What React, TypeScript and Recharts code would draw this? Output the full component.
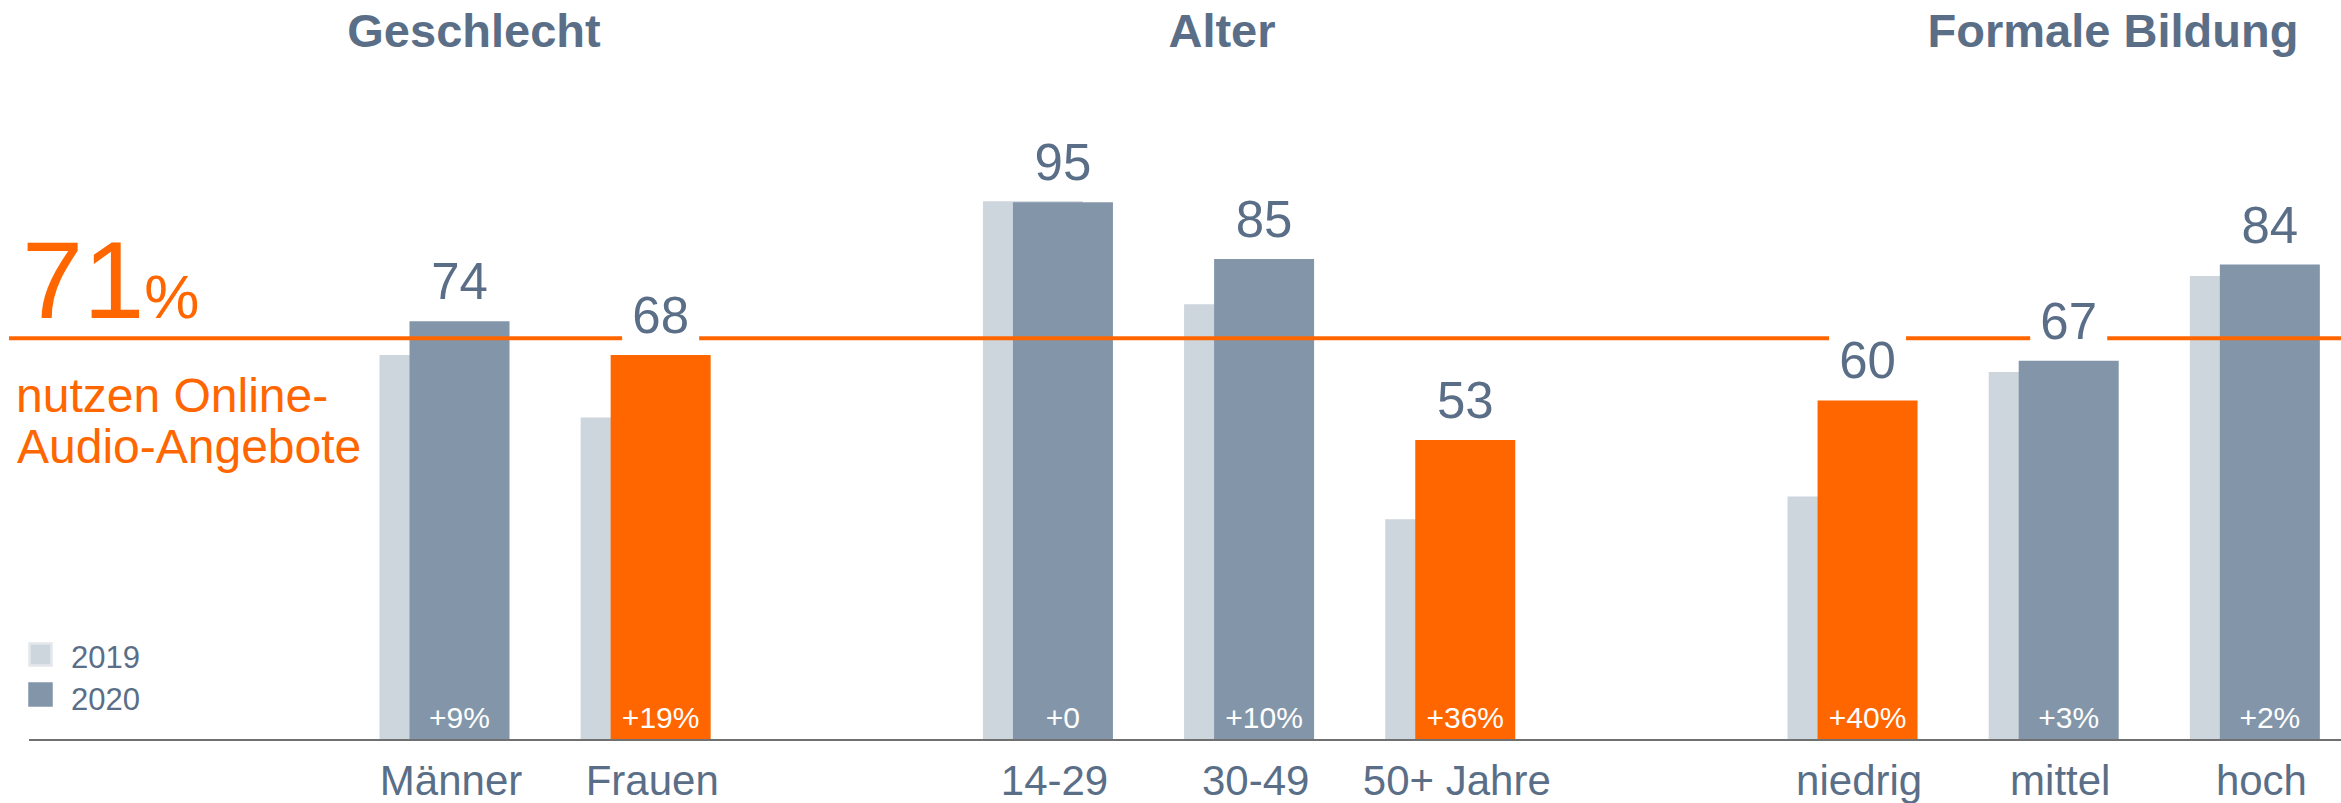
import React from 'react';
import { Bar, BarChart, Cell, LabelList, Legend, ReferenceLine, XAxis, YAxis } from 'recharts';

const categories = ['Männer', 'Frauen', '', '14-29', '30-49', '50+ Jahre', '', 'niedrig', 'mittel', 'hoch'];
const values2019 = [68, 57, null, 95.2, 77, 39, null, 43, 65, 82];
const values2020 = [74, 68, null, 95, 85, 53, null, 60, 67, 84];
const changes = ['+9%', '+19%', '', '+0', '+10%', '+36%', '', '+40%', '+3%', '+2%'];
const highlighted = ['Frauen', '50+ Jahre', 'niedrig'];
const average = 71;

const groupTitles = [
  { label: 'Geschlecht', x: 474 },
  { label: 'Alter', x: 1222 },
  { label: 'Formale Bildung', x: 2113 },
];

const TEXT = '#5A6F87';
const GREY = '#8396A9';
const LIGHT = '#CDD5DD';
const ORANGE = '#FF6600';
const FONT = '"Liberation Sans", Arial, sans-serif';

const data = categories.map((category, i) => ({
  category,
  v2019: values2019[i],
  v2020: values2020[i],
  change: changes[i],
}));

const ValueLabel = (props: any) => {
  const { x, y, width, value } = props;
  if (value == null) return null;
  const cx = x + width / 2;
  const base = y - 22;
  const w = String(value).length * 29 + 19;
  return (
    <g>
      <rect x={cx - w / 2} y={base - 48} width={w} height={58} fill="#fff" />
      <text x={cx} y={base} textAnchor="middle" fontSize={51} fill={TEXT} fontFamily={FONT}>
        {value}
      </text>
    </g>
  );
};

const ChangeLabel = (props: any) => {
  const { x, y, width, height, value } = props;
  if (!value) return null;
  return (
    <text x={x + width / 2} y={y + height - 12} textAnchor="middle" fontSize={30} fill="#fff" fontFamily={FONT}>
      {value}
    </text>
  );
};

const CategoryTick = ({ x, y, payload }: any) => (
  <text x={x + 7} y={y + 55} textAnchor="middle" fontSize={42} fill={TEXT} fontFamily={FONT}>
    {payload.value}
  </text>
);

const LegendContent = ({ payload }: any) => (
  <svg width={160} height={80}>
    {(payload || []).map((entry: any, i: number) => (
      <g key={entry.value}>
        <rect
          x={3.5}
          y={4.5 + i * 40}
          width={22}
          height={22}
          fill={i === 0 ? LIGHT : GREY}
          stroke={i === 0 ? '#E4E8EC' : GREY}
          strokeWidth={2.5}
        />
        <text x={45} y={29 + i * 42} fontSize={31} fill={TEXT} fontFamily={FONT}>
          {entry.value}
        </text>
      </g>
    ))}
  </svg>
);

export default function App() {
  return (
    <div
      style={{
        position: 'fixed',
        left: 0,
        top: 0,
        width: 2341,
        height: 803,
        overflow: 'hidden',
        background: '#fff',
        fontFamily: FONT,
      }}
    >
      <BarChart
        width={2355}
        height={803}
        data={data}
        margin={{ top: 174, right: 0, bottom: 0, left: 9 }}
        barSize={100}
        barGap={-70}
      >
        <XAxis
          dataKey="category"
          interval={0}
          tickLine={false}
          tickSize={0}
          tickMargin={0}
          height={63}
          padding={{ left: 334.5, right: 0 }}
          axisLine={{ stroke: '#707070', strokeWidth: 2, strokeDasharray: '0 20 4000' }}
          tick={<CategoryTick />}
        />
        <YAxis hide domain={[0, 100]} />
        <Legend
          layout="horizontal"
          verticalAlign="middle"
          align="center"
          content={<LegendContent />}
          wrapperStyle={{ position: 'absolute', left: 26, top: 639, width: 160, height: 80 }}
        />
        <Bar dataKey="v2019" name="2019" fill={LIGHT} isAnimationActive={false} />
        <ReferenceLine y={average} stroke={ORANGE} strokeWidth={4} />
        <Bar dataKey="v2020" name="2020" fill={GREY} isAnimationActive={false}>
          {data.map((d, i) => (
            <Cell key={i} fill={highlighted.includes(d.category) ? ORANGE : GREY} />
          ))}
          <LabelList dataKey="v2020" content={<ValueLabel />} />
          <LabelList dataKey="change" content={<ChangeLabel />} />
        </Bar>
        {groupTitles.map((t) => (
          <text
            key={t.label}
            x={t.x}
            y={47}
            textAnchor="middle"
            fontSize={47}
            fontWeight="bold"
            fill={TEXT}
            fontFamily={FONT}
          >
            {t.label}
          </text>
        ))}
        <text x={22} y={318} fontSize={110} fill={ORANGE} fontFamily={FONT}>
          {average}
          <tspan fontSize={62}>%</tspan>
        </text>
        <text x={16} y={412} fontSize={48} fill={ORANGE} fontFamily={FONT}>
          nutzen Online-
        </text>
        <text x={17} y={463} fontSize={48} fill={ORANGE} fontFamily={FONT}>
          Audio-Angebote
        </text>
      </BarChart>
    </div>
  );
}
